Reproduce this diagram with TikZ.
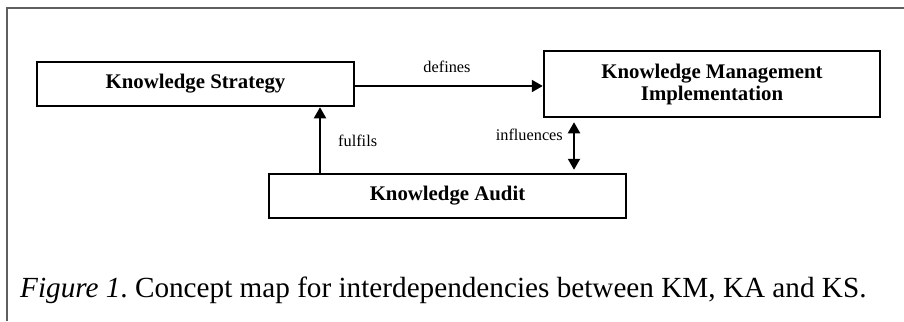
\documentclass[tikz,border=0pt]{standalone}
\usepackage{fontspec}
\setmainfont{Liberation Serif}
\usetikzlibrary{arrows.meta}
\tikzset{
  concept/.style={draw=black, line width=2.5pt, inner sep=0pt, align=center,
    font=\bfseries\fontsize{20.8}{22}\selectfont},
  arr/.style={line width=2pt, -{Triangle[length=11pt,width=12pt]}},
  darr/.style={line width=2pt, {Triangle[length=11pt,width=12pt]}-{Triangle[length=11pt,width=12pt]}},
  lbl/.style={inner sep=0pt, font=\fontsize{16.3}{18}\selectfont},
  frame/.style={draw={rgb,255:red,95;green,95;blue,95}, line width=2pt}
}
\begin{document}
\frenchspacing
\begin{tikzpicture}[x=1pt,y=-1pt]
\useasboundingbox (0,0) rectangle (904,321);
\draw[frame] (6.5,321) -- (6.5,8.5) -- (904,8.5);
\node[concept, minimum width=317pt, minimum height=44pt] (KS) at (195.5,84) {Knowledge Strategy};
\node[concept, minimum width=336pt, minimum height=66pt] (KMI) at (712,84) {Knowledge Management\\Implementation};
\node[concept, minimum width=357pt, minimum height=44pt] (KA) at (447.5,196) {Knowledge Audit};
\coordinate (fx) at (320,0);
\coordinate (ix) at (574,0);
\draw[arr] ([yshift=-2pt]KS.east) -- ([yshift=-2pt]KMI.west);
\draw[arr] (fx |- KA.north) -- (fx |- KS.south);
\draw[darr, shorten <=3pt, shorten >=4pt] (ix |- KA.north) -- (ix |- KMI.south);
\node[lbl, anchor=base] (ldef) at (447,73) {defines};
\node[lbl, anchor=base west] (lful) at (338,146) {fulfils};
\node[lbl, anchor=base east] (linf) at (563,140) {influences};
\node[anchor=base west, inner sep=0pt, font=\fontsize{29.2}{32}\selectfont] (cap) at (20,297)
  {{\itshape Figure 1}. Concept map for interdependencies between KM, KA and KS.};
\end{tikzpicture}
\end{document}
